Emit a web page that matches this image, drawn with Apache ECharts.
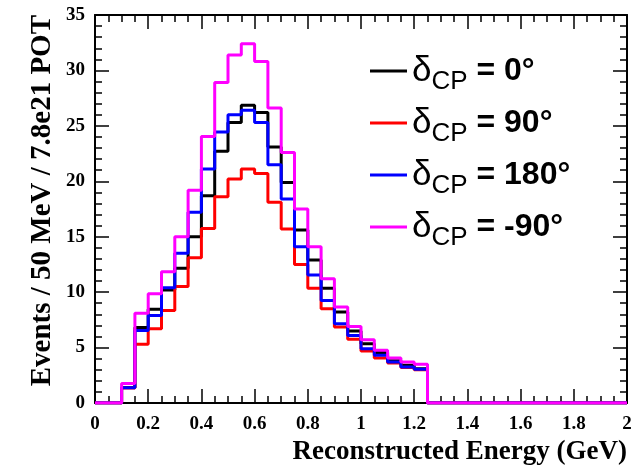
<!DOCTYPE html>
<html>
<head>
<meta charset="utf-8">
<script src="https://cdn.jsdelivr.net/npm/echarts@6/dist/echarts.min.js"></script>
<style>html,body{margin:0;padding:0;background:#fff;}#c{width:635px;height:473px;}</style>
</head>
<body>
<div id="c"></div>
<script>
// Bin width 0.05 GeV; values for bins starting at 0.10 GeV .. 1.20 GeV
var binWidth = 0.05;
var firstBinStart = 0.10;
var xMax = 2.0;
var seriesNames = ['δCP = 0°', 'δCP = 90°', 'δCP = 180°', 'δCP = -90°'];
var legendValues = ['0°', '90°', '180°', '-90°'];
var colors = ['#000000', '#ff0000', '#0000ff', '#ff00ff'];
var dcp0   = [1.4, 6.8, 8.45, 10.2, 12.15, 15.0, 18.7, 22.7, 25.3, 26.85, 26.2, 23.1, 19.9, 15.6, 12.9, 10.35, 8.2, 6.5, 5.35, 4.55, 3.8, 3.4, 3.1];
var dcp90  = [1.35, 5.3, 6.7, 8.35, 10.5, 13.1, 15.75, 18.6, 20.2, 21.1, 20.7, 18.1, 15.7, 12.5, 10.35, 8.5, 6.85, 5.75, 4.7, 4.05, 3.6, 3.2, 3.0];
var dcp180 = [1.37, 6.55, 7.9, 10.4, 13.5, 17.2, 21.1, 24.45, 26.0, 26.4, 25.3, 21.5, 18.4, 14.1, 11.55, 9.25, 7.15, 6.1, 4.9, 4.3, 3.7, 3.25, 3.05];
var dcpm90 = [1.76, 8.1, 9.85, 11.85, 15.0, 19.2, 24.05, 28.9, 31.4, 32.4, 30.8, 26.6, 22.6, 17.5, 14.1, 11.2, 8.65, 6.9, 5.7, 4.75, 4.05, 3.7, 3.5];
var allValues = [dcp0, dcp90, dcp180, dcpm90];

function histPoints(vals) {
  var nBins = Math.round(xMax / binWidth);
  var startIdx = Math.round(firstBinStart / binWidth);
  var pts = [];
  for (var i = 0; i < nBins; i++) {
    var k = i - startIdx;
    var v = (k >= 0 && k < vals.length) ? vals[k] : 0;
    pts.push([+(i * binWidth).toFixed(4), v]);
  }
  pts.push([xMax, 0]);
  return pts;
}

var serifFont = 'Liberation Serif';
var sans = "'Liberation Sans', Arial, sans-serif";
var axisLbl = {fontFamily: serifFont, fontWeight: 'bold', fontSize: 19, color: '#000'};
var series = allValues.map(function (vals, i) {
  return {
    name: seriesNames[i], type: 'line', step: 'end', data: histPoints(vals),
    showSymbol: false, symbol: 'none', smooth: false,
    lineStyle: {color: colors[i], width: 3}, itemStyle: {color: colors[i]},
    z: 2 + i, clip: true, animation: false
  };
});

var chart = echarts.init(document.getElementById('c'));
chart.setOption({
  animation: false,
  backgroundColor: '#fff',
  grid: {left: 95, right: 8, top: 15, bottom: 70, containLabel: false},
  legend: {
    orient: 'vertical', left: 365, top: 42, itemGap: 4,
    icon: 'rect', itemWidth: 37, itemHeight: 3,
    data: seriesNames,
    formatter: function (name) {
      var idx = seriesNames.indexOf(name);
      return '{d|δ}{s|CP}{t| = ' + legendValues[idx] + '}';
    },
    textStyle: {
      color: '#000', padding: [0, 0, 0, 0],
      rich: {
        d: {fontFamily: sans, fontSize: 35, color: '#000', lineHeight: 42},
        s: {fontFamily: sans, fontSize: 26, color: '#000', padding: [22, 0, 0, 0], lineHeight: 20},
        t: {fontFamily: sans, fontSize: 32, fontWeight: 'bold', color: '#000', lineHeight: 42}
      }
    }
  },
  xAxis: [{
    type: 'value', min: 0, max: xMax, interval: 0.2,
    name: 'Reconstructed Energy (GeV)', nameLocation: 'end', nameGap: 0,
    nameTextStyle: {fontFamily: serifFont, fontWeight: 'bold', fontSize: 27, color: '#000',
      align: 'right', verticalAlign: 'top', padding: [36, 0, 0, 0]},
    axisLine: {show: true, onZero: false, lineStyle: {color: '#000', width: 2}},
    axisTick: {show: true, inside: true, length: 14, lineStyle: {color: '#000', width: 1.5}},
    minorTick: {show: true, splitNumber: 4, length: 7, lineStyle: {color: '#000', width: 1.5}},
    axisLabel: Object.assign({margin: 12}, axisLbl),
    splitLine: {show: false}, minorSplitLine: {show: false}
  }, {
    type: 'value', min: 0, max: xMax, interval: 0.2, position: 'top',
    axisLine: {show: true, onZero: false, lineStyle: {color: '#000', width: 2}},
    axisTick: {show: true, inside: true, length: 14, lineStyle: {color: '#000', width: 1.5}},
    minorTick: {show: true, splitNumber: 4, length: 7, lineStyle: {color: '#000', width: 1.5}},
    axisLabel: {show: false}, splitLine: {show: false}
  }],
  yAxis: [{
    type: 'value', min: 0, max: 35, interval: 5,
    name: 'Events / 50 MeV / 7.8e21 POT', nameLocation: 'end', nameRotate: 90, nameGap: 0,
    nameTextStyle: {fontFamily: serifFont, fontWeight: 'bold', fontSize: 29, color: '#000',
      align: 'right', verticalAlign: 'bottom', padding: [0, 0, 38, 0]},
    axisLine: {show: true, onZero: false, lineStyle: {color: '#000', width: 2}},
    axisTick: {show: true, inside: true, length: 14, lineStyle: {color: '#000', width: 1.5}},
    minorTick: {show: true, splitNumber: 5, length: 7, lineStyle: {color: '#000', width: 1.5}},
    axisLabel: Object.assign({margin: 10}, axisLbl),
    splitLine: {show: false}, minorSplitLine: {show: false}
  }, {
    type: 'value', min: 0, max: 35, interval: 5, position: 'right',
    axisLine: {show: true, onZero: false, lineStyle: {color: '#000', width: 2}},
    axisTick: {show: true, inside: true, length: 14, lineStyle: {color: '#000', width: 1.5}},
    minorTick: {show: true, splitNumber: 5, length: 7, lineStyle: {color: '#000', width: 1.5}},
    axisLabel: {show: false}, splitLine: {show: false}
  }],
  series: series
});
</script>
</body>
</html>
